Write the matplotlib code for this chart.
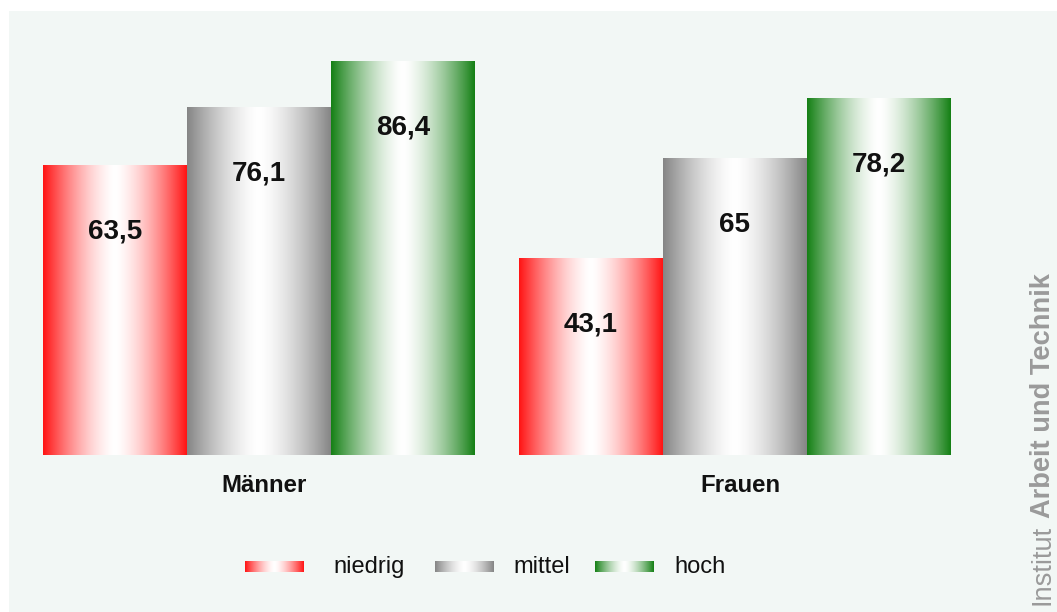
import matplotlib
matplotlib.use('Agg')
import matplotlib.pyplot as plt
from matplotlib.patches import Rectangle
import numpy as np

plt.rcParams['font.family'] = ['Liberation Sans', 'DejaVu Sans']

# DATEN
gruppen = ['Männer', 'Frauen']
stufen = ['niedrig', 'mittel', 'hoch']
werte = {
    'niedrig': [63.5, 43.1],
    'mittel': [76.1, 65.0],
    'hoch': [86.4, 78.2],
}
farben = {'niedrig': '#ff1414', 'mittel': '#858585', 'hoch': '#158015'}

W, H = 1057, 612
panel = '#f2f7f5'


def verlauf(farbe, n=256):
    # Farbe am Rand, weiss in der Mitte
    c = np.array(matplotlib.colors.to_rgb(farbe))
    f = (np.abs(np.linspace(-1, 1, n)) ** 1.5)[:, None]
    img = (1 - f) * np.ones(3) + f * c
    return img[None, :, :]


def zahl(v):
    return f"{v:g}".replace('.', ',')


fig = plt.figure(figsize=(W / 100, H / 100), dpi=100)
fig.patch.set_facecolor('white')
fig.patches.append(Rectangle((9 / W, 0), 1, (H - 11) / H, transform=fig.transFigure,
                             facecolor=panel, edgecolor='none', zorder=-5))

# Achse für die Balken
ax = fig.add_axes([43 / W, (H - 455) / H, (951 - 43) / W, (455 - 11) / H])
ax.set_facecolor('none')
w = 144 / 476
for j, s in enumerate(stufen):
    for i, v in enumerate(werte[s]):
        x0 = i + (j - 1) * w - w / 2
        ax.imshow(verlauf(farben[s]), extent=[x0, x0 + w, 0, v], aspect='auto',
                  interpolation='bilinear', zorder=2)
        ax.annotate(zahl(v), (x0 + w / 2, v), xytext=(0, -66), textcoords='offset pixels',
                    ha='center', va='center', fontsize=20, fontweight='bold', color='#111111')
for i, g in enumerate(gruppen):
    ax.annotate(g, (i, 0), xytext=(5, -31), textcoords='offset pixels',
                ha='center', va='center', fontsize=17.3, fontweight='bold', color='#111111')
ax.set_xlim(-1.5 * w, 1 + 1.5 * w)
ax.set_ylim(0, 444 / 4.56)
ax.axis('off')

# Legende und Schriftzug
lax = fig.add_axes([0, 0, 1, 1])
lax.set_facecolor('none')
lax.axis('off')
leg_x = [245, 435, 595]
txt_x = [333, 513, 674]
for s, px, tx in zip(stufen, leg_x, txt_x):
    lax.imshow(verlauf(farben[s]), extent=[px, px + 59, 572, 561], aspect='auto',
               interpolation='bilinear')
    lax.text(tx, 573, s, fontsize=17, ha='left', va='baseline', color='#111111')
lax.set_xlim(0, W)
lax.set_ylim(H, 0)

grau = '#9a9a9a'
t1 = lax.text(1043, 605, 'Institut', rotation=90, ha='center', va='bottom',
              fontsize=19.6, color=grau)
fig.canvas.draw()
bb = t1.get_window_extent()
y_top = H - bb.y1 - 7
lax.text(1043, y_top, 'Arbeit und Technik', rotation=90, ha='center', va='bottom',
         fontsize=19.6, fontweight='bold', color=grau)

plt.savefig('out.png', dpi=100, facecolor=fig.get_facecolor())
